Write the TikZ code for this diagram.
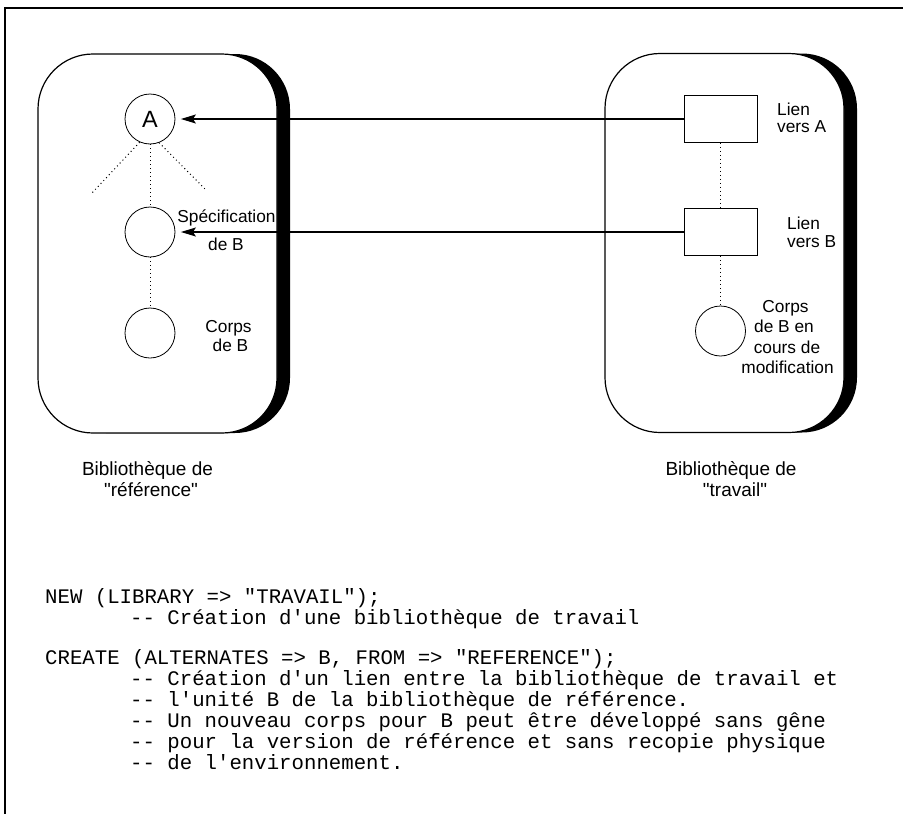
\documentclass[tikz,border=0pt]{standalone}
\usepackage{fontspec}
\setmainfont{Liberation Sans}[Ligatures=TeXOff]
\newfontfamily\codefont{Liberation Mono}[Ligatures=TeXOff]
\usetikzlibrary{shadows,arrows.meta}
\begin{document}
\begin{tikzpicture}[x=1pt,y=-1pt,
 blob/.style={draw, line width=1.2pt, fill=white, rounded corners=55pt, minimum width=239pt, minimum height=379pt, inner sep=0pt, drop shadow={shadow xshift=13pt, shadow yshift=0pt, fill=black, opacity=1}},
 unit/.style={draw, circle, line width=0.8pt, minimum size=50pt, inner sep=0pt},
 linkbox/.style={draw, rectangle, line width=0.8pt, minimum width=73pt, minimum height=47pt, inner sep=0pt},
 dots/.style={line width=1pt, dash pattern=on 1pt off 3pt},
 arr/.style={line width=1.2pt, -{Stealth[length=15pt,width=9pt,inset=3pt]}, shorten >=5.5pt},
 lbl/.style={font=\fontsize{17.3}{20}\selectfont, inner sep=0pt, anchor=base},
 libcap/.style={font=\fontsize{19}{22}\selectfont, inner sep=0pt, anchor=base},
 codeline/.style={font=\codefont\fontsize{20.7}{21}\selectfont, inner sep=0pt, anchor=base west},
 framestyle/.style={line width=1.2pt}]

\useasboundingbox (0,0) rectangle (903,814);
\coordinate (fTL) at (5,8);
\coordinate (fTR) at (903,8);
\coordinate (fBL) at (5,814);
\draw[framestyle] (fTR) -- (fTL) -- (fBL);

% libraries
\node[blob] (ref) at (157.5,243.5) {};
\node[blob] (trav) at (724.5,243) {};

% reference library units
\node[unit, font=\fontsize{23.5}{24}\selectfont] (A) at (150,119) {A};
\node[unit] (spec) at (150,232) {};
\node[unit] (corps) at (150,333) {};
\coordinate (dl) at (92,193);
\coordinate (dr) at (206,190);
\draw[dots] (A.south) -- (spec.north);
\draw[dots] (A.-114) -- (dl);
\draw[dots] (A.-69) -- (dr);
\draw[dots] (spec.south) -- (corps.north);

% work library
\node[linkbox] (lA) at (720.5,119) {};
\node[linkbox] (lB) at (720.5,232) {};
\node[unit] (nc) at (720.5,331) {};
\draw[dots] (lA.south) -- (lB.north);
\draw[dots] (lB.south) -- (nc.north);

% links
\draw[arr] (lA.west) -- (A.east);
\draw[arr] (lB.west) -- (spec.east);

% labels
\node[lbl] (specT) at (226.5,222) {Spécification};
\node[lbl] (specT2) at (226,250) {de B};
\node[lbl] (corpsT) at (228.5,332) {Corps};
\node[lbl] (corpsT2) at (230.5,351) {de B};
\node[lbl, anchor=base west] (liA1) at (777,115) {Lien};
\node[lbl, anchor=base west] (liA2) at (777,132) {vers A};
\node[lbl, anchor=base west] (liB1) at (787,229.5) {Lien};
\node[lbl, anchor=base west] (liB2) at (787,247) {vers B};
\node[lbl] (ncT1) at (785.5,312) {Corps};
\node[lbl] (ncT2) at (784,332) {de B en};
\node[lbl] (ncT3) at (787,353) {cours de};
\node[lbl] (ncT4) at (787.5,373) {modification};

\node[libcap] (refT1) at (147.5,475) {Bibliothèque de};
\node[libcap] (refT2) at (151,496) {"référence"};
\node[libcap] (travT1) at (731,475) {Bibliothèque de};
\node[libcap] (travT2) at (735,496) {"travail"};

% code
\node[codeline] (c1) at (45,603) {NEW (LIBRARY => "TRAVAIL");};
\node[codeline] (c2) at (130,624) {-- Création d'une bibliothèque de travail};
\node[codeline] (c3) at (45,664) {CREATE (ALTERNATES => B, FROM => "REFERENCE");};
\node[codeline] (c4) at (130,685) {-- Création d'un lien entre la bibliothèque de travail et};
\node[codeline] (c5) at (130,706) {-- l'unité B de la bibliothèque de référence.};
\node[codeline] (c6) at (130,727) {-- Un nouveau corps pour B peut être développé sans gêne};
\node[codeline] (c7) at (130,748) {-- pour la version de référence et sans recopie physique};
\node[codeline] (c8) at (130,769) {-- de l'environnement.};
\end{tikzpicture}
\end{document}
